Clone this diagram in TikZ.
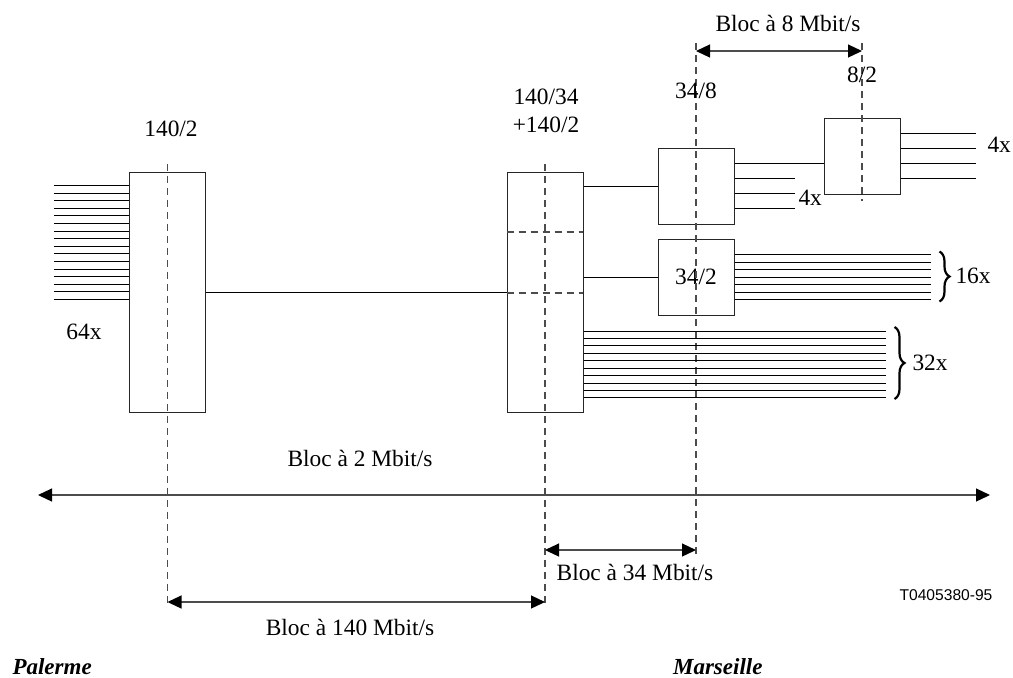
\documentclass[tikz,border=0pt]{standalone}
\usepackage{fontspec}
\setmainfont{Liberation Serif}
\newfontfamily\tagfont{Liberation Sans}
\usepackage{tikz}
\usetikzlibrary{arrows.meta}
\usetikzlibrary{positioning}
\usetikzlibrary{calc}
\usetikzlibrary{decorations.pathreplacing}
\tikzset{
    box/.style={draw=black!85, minimum width=38pt, minimum height=38pt, inner sep=0pt},
    tallbox/.style={box, minimum height=120pt},
    axis/.style={draw=black!70, line width=0.6pt, dash pattern=on 3.5pt off 2.5pt},
    span/.style={draw=black!70, line width=0.6pt,
        {Triangle[length=7pt,width=6.5pt,black]}-{Triangle[length=7pt,width=6.5pt,black]}},
    lbl/.style={font=\fontsize{11.7}{14}\selectfont, inner sep=0pt},
    town/.style={font=\fontsize{11.5}{14}\selectfont\bfseries\itshape, inner sep=0pt},
    bundlebrace/.style={decorate, decoration={brace, amplitude=5pt}, line width=1.1pt},
}

\begin{document}
\begin{tikzpicture}[x=0.5pt, y=-0.5pt, line width=0.5pt]
	\useasboundingbox (0,0) rectangle (1013,677);
	% multiplexers
	\node[tallbox] (mux140) at (167.5,292) {};
	\node[tallbox] (mux34) at (545,292.5) {};
	\node[box] (mux8) at (696,186) {};
	\node[box] (mux2) at (696,277) {\fontsize{11.7}{14}\selectfont 34/2};
	\node[box] (mux82) at (862,156) {};
	\draw[axis] ($(mux34.north west)+(0,60)$) -- ++(76,0);
	\draw[axis] ($(mux34.north west)+(0,121)$) -- ++(76,0);
	% levels of the span arrows
	\coordinate (y8) at (0,51);
	\coordinate (y2) at (0,495);
	\coordinate (y34) at (0,550);
	\coordinate (y140) at (0,602);
	\coordinate (left2) at (38,495);
	\coordinate (right2) at (990,495);
	% dashed axes
	\draw[axis] ([yshift=4pt]mux140.north) -- ([yshift=-2.5pt]mux140 |- y140);
	\draw[axis] ([yshift=4pt]mux34.north) -- ([yshift=-2.5pt]mux34 |- y140);
	\draw[axis] ([yshift=4pt]mux8 |- y8) -- ([yshift=-4pt]mux8 |- y34);
	\draw[axis] ([yshift=4pt]mux82 |- y8) -- ([yshift=-3pt]mux82.south);
	% links
	\draw (mux140.east) -- (mux140.east -| mux34.west);
	\draw (mux8.west -| mux34.east) -- (mux8.west);
	\draw (mux2.west -| mux34.east) -- (mux2.west);
	\draw ($(mux8.north east)+(0,16)$) -- ($(mux82.north west)+(0,46)$);
	% bundles
	\foreach \i in {0,...,15}
		\draw ($(mux140.north west)+(0,14+7.6*\i)$) -- ++(-75,0);
	\foreach \i in {0,...,9}
		\draw ($(mux34.north east)+(0,159+7.44*\i)$) -- ++(302,0);
	\foreach \i in {0,...,6}
		\draw ($(mux2.north east)+(0,16+7.5*\i)$) -- ++(196,0);
	\foreach \i in {1,2,3}
		\draw ($(mux8.north east)+(0,16+15*\i)$) -- ++(60,0);
	\foreach \i in {0,...,3}
		\draw ($(mux82.north east)+(0,16+15*\i)$) -- ++(75,0);
	\draw[bundlebrace] ($(mux34.north east)+(311,155)$) -- ($(mux34.north east)+(311,227)$);
	\draw[bundlebrace] ($(mux2.north east)+(205,13)$) -- ($(mux2.north east)+(205,63)$);
	% spans
	\draw[span] (mux8 |- y8) -- (mux82 |- y8);
	\draw[span] (left2) -- (right2);
	\draw[span] (mux34 |- y34) -- (mux8 |- y34);
	\draw[span] (mux140 |- y140) -- (mux34 |- y140);
	% labels
	\node[lbl] (l1402) at (171,129) {140/2};
	\node[lbl, align=center] (l14034) at (546,111) {140/34\\+140/2};
	\node[lbl] (l348) at (696,91) {34/8};
	\node[lbl] (l82) at (862,75) {8/2};
	\node[lbl] (n64) at (84,332) {64x};
	\node[lbl, anchor=west] (n4a) at (798,198) {4x};
	\node[lbl, anchor=west] (n4b) at (987,145) {4x};
	\node[lbl, anchor=west] (n16) at (955,276) {16x};
	\node[lbl, anchor=west] (n32) at (912,363) {32x};
	\node[lbl] (b8) at (788,23) {Bloc à 8 Mbit/s};
	\node[lbl] (b2) at (360,458) {Bloc à 2 Mbit/s};
	\node[lbl] (b34) at (635,572) {Bloc à 34 Mbit/s};
	\node[lbl] (b140) at (350,627) {Bloc à 140 Mbit/s};
	\node[font=\tagfont\fontsize{7.8}{9}\selectfont, inner sep=0pt] (tag) at (946,595) {T0405380-95};
	\node[town, anchor=west] (palerme) at (12,667) {Palerme};
	\node[town, anchor=east] (marseille) at (763,667) {Marseille};
\end{tikzpicture}
\end{document}
